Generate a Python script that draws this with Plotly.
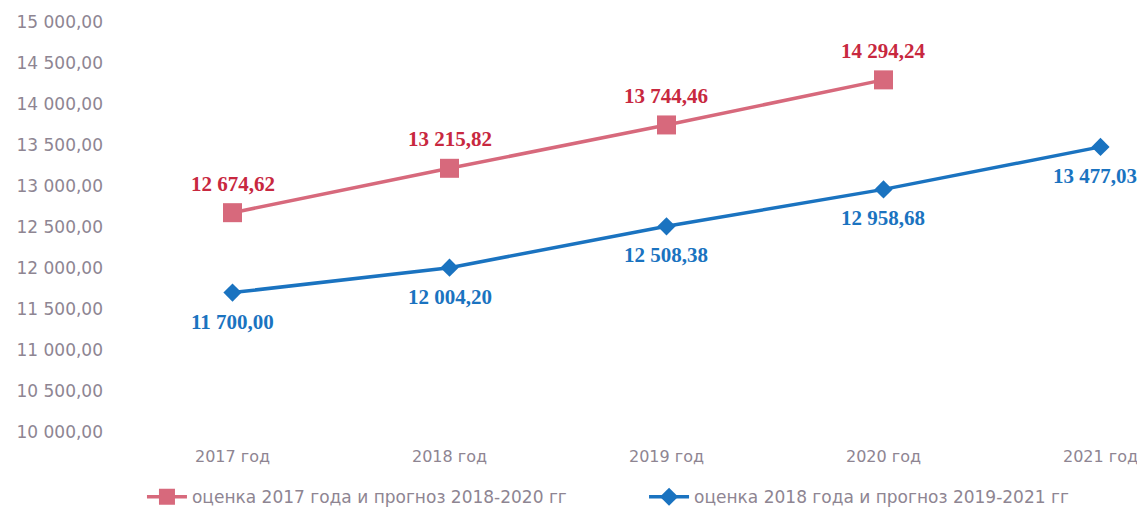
import plotly.graph_objects as go

categories = ["2017 год", "2018 год", "2019 год", "2020 год", "2021 год"]
series1_name = "оценка 2017 года и прогноз 2018-2020 гг"
series1_values = [12674.62, 13215.82, 13744.46, 14294.24]
series2_name = "оценка 2018 года и прогноз 2019-2021 гг"
series2_values = [11700.00, 12004.20, 12508.38, 12958.68, 13477.03]
y_ticks = [10000, 10500, 11000, 11500, 12000, 12500, 13000, 13500, 14000, 14500, 15000]


def fmt(v):
    s = f"{v:,.2f}"
    return s.replace(",", " ").replace(".", ",")


RED_LINE = "#d7697c"
RED_TEXT = "#c8283f"
BLUE = "#1a73c0"
AXIS_TXT = "#8e8592"
LABEL_FONT = "Liberation Serif"
AXIS_FONT = "DejaVu Sans"

x1 = list(range(len(series1_values)))
x2 = list(range(len(series2_values)))

fig = go.Figure()
fig.add_trace(go.Scatter(
    x=x1, y=series1_values, name=series1_name,
    mode="lines+markers",
    line=dict(color=RED_LINE, width=3.5),
    marker=dict(symbol="square", size=19, color=RED_LINE),
    cliponaxis=False, legend="legend",
))
fig.add_trace(go.Scatter(
    x=x2, y=series2_values, name=series2_name,
    mode="lines+markers",
    line=dict(color=BLUE, width=3.5),
    marker=dict(symbol="diamond", size=14, color=BLUE),
    cliponaxis=False, legend="legend2",
))

for xi, v in zip(x1, series1_values):
    fig.add_annotation(x=xi, y=v, text=fmt(v), showarrow=False, yshift=29,
                       font=dict(family=LABEL_FONT, size=21, color=RED_TEXT, weight="bold"))
for xi, v in zip(x2, series2_values):
    fig.add_annotation(x=xi, y=v, text=fmt(v), showarrow=False, yshift=-29,
                       xshift=(-5 if xi == x2[-1] else 0),
                       font=dict(family=LABEL_FONT, size=21, color=BLUE, weight="bold"))

legend_common = dict(orientation="h", xref="container", yref="container",
                     xanchor="left", y=0.037, yanchor="middle",
                     font=dict(family=AXIS_FONT, size=17, color=AXIS_TXT),
                     itemwidth=40, bgcolor="rgba(0,0,0,0)")

fig.update_layout(
    width=1145, height=508,
    margin=dict(l=116, r=0, t=14, b=84),
    paper_bgcolor="white", plot_bgcolor="white",
    font=dict(family=AXIS_FONT, size=15, color=AXIS_TXT),
    showlegend=True,
    legend=dict(x=0.117, **legend_common),
    legend2=dict(x=0.5555, **legend_common),
)
fig.update_xaxes(
    range=[-0.5, 4.242], tickmode="array", tickvals=x2, ticktext=categories,
    showgrid=False, zeroline=False, showline=False, ticks="",
    ticklabelstandoff=13, tickfont=dict(family=AXIS_FONT, size=16, color=AXIS_TXT),
)
fig.update_yaxes(
    range=[10000, 15000], tickmode="array", tickvals=y_ticks,
    ticktext=[fmt(v) for v in y_ticks],
    showgrid=False, zeroline=False, showline=False,
    ticklabelstandoff=20, tickfont=dict(family=AXIS_FONT, size=17, color=AXIS_TXT),
)

fig.write_html("out.html")
